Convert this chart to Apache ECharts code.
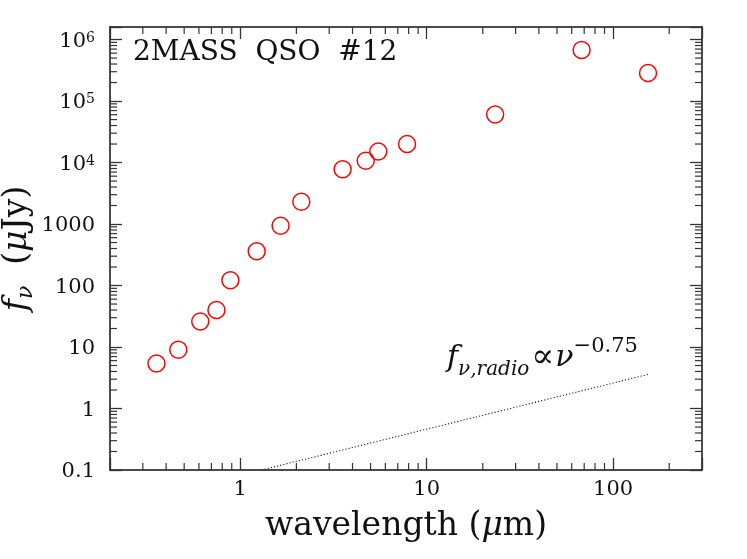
<!DOCTYPE html>
<html>
<head>
<meta charset="utf-8">
<script src="https://cdn.jsdelivr.net/npm/echarts@6/dist/echarts.min.js"></script>
<style>
  html, body { margin: 0; padding: 0; background: #fff; }
  #chart { width: 747px; height: 559px; }
</style>
</head>
<body>
<div id="chart"></div>
<script>
// data
var wavelengths = [0.355, 0.465, 0.61, 0.745, 0.885, 1.225, 1.645, 2.125, 3.54, 4.71, 5.5, 7.85, 23.3, 67.8, 154];
var fluxes = [5.4, 9.0, 26, 40, 122, 362, 935, 2300, 7800, 10700, 15100, 20000, 60500, 676000, 285000];

// radio power law f ~ nu^-0.75, two ends of the dotted line
var radioLam = [1.3, 155];
var radioFlux = [0.1, 3.6];

// axis ticks
var xTickValues = [1, 10, 100];
var xTickLabels = ['1', '10', '100'];
var yTickValues = [0.1, 1, 10, 100, 1000, 1e4, 1e5, 1e6];
var yTickLabels = ['0.1', '1', '10', '100', '1000', '10{s|4}', '10{s|5}', '10{s|6}'];
var minorSteps = [2, 3, 4, 5, 6, 7, 8, 9];
var xDecades = [0.1, 1, 10, 100];
var yDecades = [0.1, 1, 10, 100, 1000, 1e4, 1e5];

var xMin = 0.2, xMax = 300;
var yMin = 0.1, yMax = 1.6e6;

var FONT = 'DejaVu Serif';
var TICK = '#333';

function minorList(decades, lo, hi) {
    var out = [];
    decades.forEach(function (d) {
        minorSteps.forEach(function (m) {
            var v = d * m;
            if (v > lo * 1.001 && v < hi * 0.999) out.push(v);
        });
    });
    return out;
}

function pickLabel(values, labels, v) {
    for (var i = 0; i < values.length; i++) {
        if (Math.abs(Math.log10(v) - Math.log10(values[i])) < 1e-6) return labels[i];
    }
    return '';
}

function renderXMinor(params, api) {
    var cs = params.coordSys;
    var x = api.coord([api.value(0), 1])[0];
    var top = cs.y, bottom = cs.y + cs.height;
    return {
        type: 'group',
        children: [
            {type: 'line', shape: {x1: x, y1: bottom, x2: x, y2: bottom - 7}, style: {stroke: TICK, lineWidth: 1.2}},
            {type: 'line', shape: {x1: x, y1: top, x2: x, y2: top + 7}, style: {stroke: TICK, lineWidth: 1.2}}
        ]
    };
}

function renderYMinor(params, api) {
    var cs = params.coordSys;
    var y = api.coord([1, api.value(1)])[1];
    var left = cs.x, right = cs.x + cs.width;
    return {
        type: 'group',
        children: [
            {type: 'line', shape: {x1: left, y1: y, x2: left + 7, y2: y}, style: {stroke: TICK, lineWidth: 1.2}},
            {type: 'line', shape: {x1: right, y1: y, x2: right - 7, y2: y}, style: {stroke: TICK, lineWidth: 1.2}}
        ]
    };
}

var axisLine = {show: true, lineStyle: {color: '#111', width: 1.5}};
var majorTick = {show: true, inside: true, length: 12, lineStyle: {color: TICK, width: 1.3}};

var dom = document.getElementById('chart');
var myChart = echarts.init(dom, null, {renderer: 'canvas'});

var option = {
    animation: false,
    backgroundColor: '#fff',
    grid: {left: 110, right: 45, top: 27, bottom: 89, containLabel: false, outerBoundsMode: 'none'},
    xAxis: [
        {
            type: 'log', logBase: 10, min: xMin, max: xMax, position: 'bottom',
            axisLine: axisLine, axisTick: majorTick, splitLine: {show: false},
            axisLabel: {
                show: true, margin: 9, color: '#111', fontFamily: FONT, fontSize: 21,
                formatter: function (v) { return pickLabel(xTickValues, xTickLabels, v); }
            },
            name: 'wavelength ({m|μ}m)', nameLocation: 'middle', nameGap: 40, nameMoveOverlap: false,
            nameTextStyle: {
                color: '#111', fontFamily: FONT, fontSize: 33,
                rich: {m: {fontFamily: FONT, fontStyle: 'italic', fontSize: 33, color: '#111'}}
            }
        },
        {
            type: 'log', logBase: 10, min: xMin, max: xMax, position: 'top',
            axisLine: axisLine, axisTick: majorTick, splitLine: {show: false},
            axisLabel: {show: false}
        }
    ],
    yAxis: [
        {
            type: 'log', logBase: 10, min: yMin, max: yMax, position: 'left',
            axisLine: axisLine, axisTick: majorTick, splitLine: {show: false},
            axisLabel: {
                show: true, margin: 15, color: '#111', fontFamily: FONT, fontSize: 21,
                padding: [4, 0, 0, 0],
                formatter: function (v) { return pickLabel(yTickValues, yTickLabels, v); },
                rich: {
                    s: {fontFamily: FONT, fontSize: 14, lineHeight: 14, verticalAlign: 'top', color: '#111'}
                }
            },
            name: '{i|f}{sub|ν}  ({i|μ}Jy)', nameLocation: 'middle', nameGap: 73, nameRotate: 90,
            nameMoveOverlap: false,
            nameTextStyle: {
                color: '#111', fontFamily: FONT, fontSize: 33, lineHeight: 40,
                rich: {
                    i: {fontFamily: FONT, fontStyle: 'italic', fontSize: 33, lineHeight: 40, color: '#111'},
                    sub: {fontFamily: FONT, fontStyle: 'italic', fontSize: 22, lineHeight: 22, verticalAlign: 'bottom', color: '#111'}
                }
            }
        },
        {
            type: 'log', logBase: 10, min: yMin, max: yMax, position: 'right',
            axisLine: axisLine, axisTick: majorTick, splitLine: {show: false},
            axisLabel: {show: false}
        }
    ],
    graphic: [
        {
            type: 'text', left: 133, top: 39, silent: true,
            style: {text: '2MASS  QSO  #12', fontFamily: FONT, fontSize: 28, fill: '#111'}
        },
        {
            type: 'text', left: 447, top: 336, silent: true,
            style: {
                text: '{f|f}{sub|ν,radio}{op|∝}{nu|ν}{sup|−0.75}',
                fill: '#111',
                rich: {
                    f: {fontFamily: FONT, fontStyle: 'italic', fontSize: 30, lineHeight: 44, fill: '#111'},
                    sub: {fontFamily: FONT, fontStyle: 'italic', fontSize: 20, lineHeight: 20, verticalAlign: 'bottom', fill: '#111'},
                    op: {fontFamily: FONT, fontSize: 34, lineHeight: 44, fill: '#111', padding: [0, 1, 0, 2]},
                    nu: {fontFamily: FONT, fontStyle: 'italic', fontSize: 30, lineHeight: 44, fill: '#111'},
                    sup: {fontFamily: FONT, fontSize: 21, lineHeight: 21, verticalAlign: 'top', fill: '#111'}
                }
            }
        }
    ],
    series: [
        {
            type: 'custom', xAxisIndex: 0, yAxisIndex: 0, silent: true, clip: false,
            renderItem: renderXMinor,
            data: minorList(xDecades, xMin, xMax).map(function (v) { return [v, 1]; })
        },
        {
            type: 'custom', xAxisIndex: 0, yAxisIndex: 0, silent: true, clip: false,
            renderItem: renderYMinor,
            data: minorList(yDecades, yMin, yMax).map(function (v) { return [1, v]; })
        },
        {
            type: 'line', xAxisIndex: 0, yAxisIndex: 0, silent: true,
            showSymbol: false, symbol: 'none', clip: true,
            lineStyle: {color: '#222', width: 1.1, type: [1.2, 2]},
            data: radioLam.map(function (l, i) { return [l, radioFlux[i]]; })
        },
        {
            type: 'scatter', xAxisIndex: 0, yAxisIndex: 0, silent: true,
            symbol: 'circle', symbolSize: 17,
            itemStyle: {color: 'rgba(0,0,0,0)', borderColor: '#ff0000', borderWidth: 1.5, opacity: 1},
            data: wavelengths.map(function (l, i) { return [l, fluxes[i]]; })
        }
    ]
};

myChart.setOption(option);
window.addEventListener('resize', myChart.resize);
</script>
</body>
</html>
